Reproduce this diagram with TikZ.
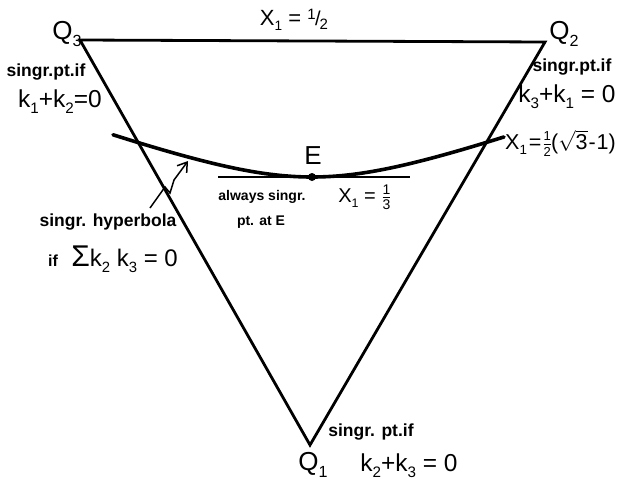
\documentclass[tikz,border=0pt]{standalone}
\usepackage{fontspec}
\setmainfont{Liberation Sans}
\usetikzlibrary{arrows.meta}
\newcommand\lsub[1]{\raisebox{-0.45ex}{\scalebox{0.62}{#1}}}
\newcommand\fsz[1]{\fontsize{#1}{#1}\selectfont}
\newcommand\tfr[3]{\ensuremath{\frac{\mbox{\fsz{#3}#1}}{\mbox{\fsz{#3}#2}}}}
\newcommand\half{\raisebox{0.45ex}{\fsz{15}1}\kern-0.5pt{\fsz{20}/}\kern-1pt\raisebox{-0.35ex}{\fsz{15}2}}
\begin{document}
\begin{tikzpicture}[x=1pt,y=-1pt,
  edge/.style={line width=2.8pt, line cap=round},
  lbl/.style={inner sep=0pt, anchor=center},
  small/.style={lbl, font=\fsz{17.5}\bfseries},
  big/.style={lbl, font=\fsz{24.5}},
  vlab/.style={lbl, font=\fsz{26}}]
\useasboundingbox (0,0) rectangle (623,482);
\coordinate (Q3) at (80,40);
\coordinate (Q2) at (545,42);
\coordinate (Q1) at (310,445);
\draw[edge, line join=miter] (Q3) -- (Q2) -- (Q1) -- cycle;
% hyperbola-like curve
\draw[line width=3.6pt, line cap=round] plot[domain=113:504, samples=120, smooth]
  (\x, {177 - sqrt(1600 + 13.04*((\x-312)/10)^2) + 40});
% tangent line at E
\coordinate (TL) at (218,177);
\coordinate (TR) at (410,177);
\draw[line width=2.6pt] (TL) -- (TR);
\node[circle, fill, inner sep=0pt, minimum size=8pt] (E) at (312,177) {};
% leader with zigzag
\coordinate (L0) at (150,208);
\coordinate (L1) at (165,187);
\coordinate (L2) at (170,193);
\coordinate (L3) at (174,180);
\coordinate (AT) at (188,161);
\draw[line width=1.5pt, -{Straight Barb[length=9pt,width=12pt]}] (L0) -- (L1) -- (L2) -- (L3) -- (AT);
% labels
\node[vlab] (q3) at (67,34) {Q\lsub{3}};
\node[vlab] (q2) at (564,34) {Q\lsub{2}};
\node[vlab] (q1) at (313,465) {Q\lsub{1}};
\node[lbl, font=\fsz{22}] (top) at (294,20) {X\lsub{1} = \half};
\node[small] (s3) at (46,72) {singr.pt.if};
\node[big] (k12) at (60,102) {k\lsub{1}+k\lsub{2}=0};
\node[small] (s2) at (572,67) {singr.pt.if};
\node[big] (k31) at (567,97) {k\lsub{3}+k\lsub{1} = 0};
\node[lbl, font=\fsz{21.5}, anchor=west] (x1r) at (505,143) {X\lsub{1}\kern2pt=\kern1pt\tfr{1}{2}{13}\kern-1pt($\sqrt{\mbox{3}}$\kern1pt-\kern1pt1)};
\node[lbl, font=\fsz{26}] (Elab) at (313,156) {E};
\node[lbl, font=\fsz{14}\bfseries] (alw) at (262,197) {always singr.};
\node[lbl, font=\fsz{20}] (x13) at (365,197) {X\lsub{1} = \tfr{1}{3}{14}};
\node[lbl, font=\fsz{14}\bfseries] (ptE) at (261,222) {pt. at E};
\node[small] (hyp) at (108,222) {singr. hyperbola};
\node[lbl, font=\fsz{24}] (sum) at (113,259) {{\fsz{16}\bfseries if}\ \ {\fsz{30}Σ}k\lsub{2} k\lsub{3} = 0};
\node[small] (s1) at (371,432) {singr. pt.if};
\node[big] (k23) at (409,466) {k\lsub{2}+k\lsub{3} = 0};
\end{tikzpicture}
\end{document}
